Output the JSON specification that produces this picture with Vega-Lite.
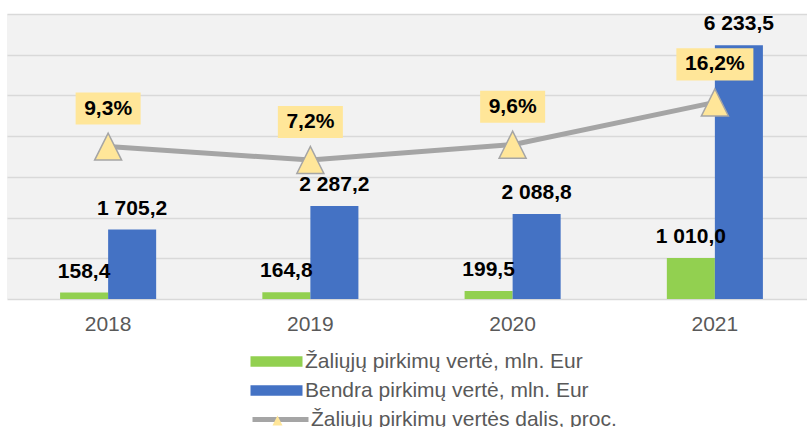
{
  "$schema": "https://vega.github.io/schema/vega-lite/v6.json",
  "width": 800,
  "height": 285,
  "autosize": {"type": "none"},
  "padding": {"left": 7, "top": 14, "right": 0, "bottom": 128},
  "background": "white",
  "config": {
    "locale": {"number": {"decimal": ",", "thousands": " ", "grouping": [3], "currency": ["", ""], "percent": "%"}},
    "view": {"fill": "#F2F2F2", "stroke": null},
    "font": "Liberation Sans",
    "legend": {"padding": 0, "labelLimit": 500}
  },
  "datasets": {
    "bars": [
      {"year": "2018", "series": "Žaliųjų pirkimų vertė, mln. Eur", "value": 158.4},
      {"year": "2018", "series": "Bendra pirkimų vertė, mln. Eur", "value": 1705.2},
      {"year": "2019", "series": "Žaliųjų pirkimų vertė, mln. Eur", "value": 164.8},
      {"year": "2019", "series": "Bendra pirkimų vertė, mln. Eur", "value": 2287.2},
      {"year": "2020", "series": "Žaliųjų pirkimų vertė, mln. Eur", "value": 199.5},
      {"year": "2020", "series": "Bendra pirkimų vertė, mln. Eur", "value": 2088.8},
      {"year": "2021", "series": "Žaliųjų pirkimų vertė, mln. Eur", "value": 1010.0},
      {"year": "2021", "series": "Bendra pirkimų vertė, mln. Eur", "value": 6233.5}
    ],
    "share": [
      {"year": "2018", "pct": 0.093},
      {"year": "2019", "pct": 0.072},
      {"year": "2020", "pct": 0.096},
      {"year": "2021", "pct": 0.162}
    ]
  },
  "encoding": {
    "x": {
      "field": "year", "type": "nominal",
      "scale": {"domain": ["2018", "2019", "2020", "2021"], "range": [0, 809], "paddingInner": 0.525, "paddingOuter": 0.2625},
      "axis": {"title": null, "labelAngle": 0, "labelFontSize": 21, "labelColor": "#595959", "ticks": false, "domain": false, "labelPadding": 14, "grid": false}
    }
  },
  "layer": [
    {
      "data": {"name": "bars"},
      "encoding": {
        "xOffset": {"field": "series", "type": "nominal", "scale": {"domain": ["Žaliųjų pirkimų vertė, mln. Eur", "Bendra pirkimų vertė, mln. Eur"], "paddingInner": 0, "paddingOuter": 0}},
        "y": {
          "field": "value", "type": "quantitative",
          "scale": {"domain": [0, 7000], "nice": false},
          "axis": {"title": null, "labels": false, "ticks": false, "domain": false, "grid": true, "gridColor": "#D9D9D9", "gridWidth": 1.5, "values": [0, 1000, 2000, 3000, 4000, 5000, 6000, 7000]}
        }
      },
      "layer": [
        {
          "mark": {"type": "bar"},
          "encoding": {
            "fill": {
              "field": "series", "type": "nominal",
              "scale": {"domain": ["Žaliųjų pirkimų vertė, mln. Eur", "Bendra pirkimų vertė, mln. Eur"], "range": ["#92D050", "#4472C4"]},
              "legend": {"orient": "none", "legendX": 259, "legendY": 337, "direction": "vertical", "title": null, "symbolType": "M-2.6,-0.52H2.6V0.52H-2.6Z", "symbolSize": 400, "symbolStrokeWidth": 0, "labelFontSize": 21, "labelColor": "#595959", "labelOffset": 18, "rowPadding": 7, "labelFont": "Liberation Sans"}
            }
          }
        },
        {
          "mark": {"type": "text", "baseline": "alphabetic", "dy": -15, "fontWeight": "bold", "fontSize": 21, "color": "#000000"},
          "encoding": {"text": {"field": "value", "type": "quantitative", "format": ",.1f"}}
        }
      ]
    },
    {
      "data": {"name": "share"},
      "encoding": {
        "y": {"field": "pct", "type": "quantitative", "scale": {"domain": [-0.145, 0.30], "nice": false, "zero": false}, "axis": null}
      },
      "layer": [
        {
          "mark": {"type": "line", "strokeWidth": 5},
          "encoding": {
            "stroke": {
              "datum": "Žaliųjų pirkimų vertės dalis, proc.",
              "scale": {"range": ["#A5A5A5"]},
              "legend": {"orient": "none", "legendX": 261, "legendY": 393, "title": null, "symbolType": "M-2.8,0H2.8", "symbolSize": 400, "symbolStrokeWidth": 5, "labelFontSize": 21, "labelColor": "#595959", "labelOffset": 18, "labelFont": "Liberation Sans"}
            }
          }
        },
        {
          "mark": {"type": "point", "filled": true, "fill": "#FFE699", "stroke": "#A5A5A5", "strokeWidth": 1, "size": 81, "opacity": 1},
          "encoding": {
            "shape": {
              "datum": "marker",
              "scale": {"range": ["M-1,1L1,1L0,-1Z"]},
              "legend": {"orient": "none", "legendX": 265, "legendY": 401, "title": null, "labelExpr": "''", "labelFontSize": 1, "symbolFillColor": "#FFE699", "symbolStrokeColor": "#A5A5A5", "symbolStrokeWidth": 1}
            }
          }
        },
        {
          "mark": {"type": "point", "filled": true, "fill": "#FFE699", "stroke": "#A5A5A5", "strokeWidth": 1.5, "size": 729, "opacity": 1, "shape": "M-1,1L1,1L0,-1Z"}
        },
        {
          "mark": {"type": "point", "filled": true, "fill": "#FFE699", "strokeWidth": 0, "opacity": 1, "yOffset": -38},
          "encoding": {
            "shape": {"condition": {"test": "datum.pct >= 0.1", "value": "M-1,-0.416H1V0.416H-1Z"}, "value": "M-1,-0.492H1V0.492H-1Z"},
            "size": {"condition": {"test": "datum.pct >= 0.1", "value": 5929}, "value": 4225}
          }
        },
        {
          "mark": {"type": "text", "baseline": "middle", "dy": -38, "fontWeight": "bold", "fontSize": 21, "color": "#000000"},
          "encoding": {"text": {"field": "pct", "type": "quantitative", "format": ".1%"}}
        }
      ]
    }
  ],
  "resolve": {"scale": {"y": "independent"}}
}
